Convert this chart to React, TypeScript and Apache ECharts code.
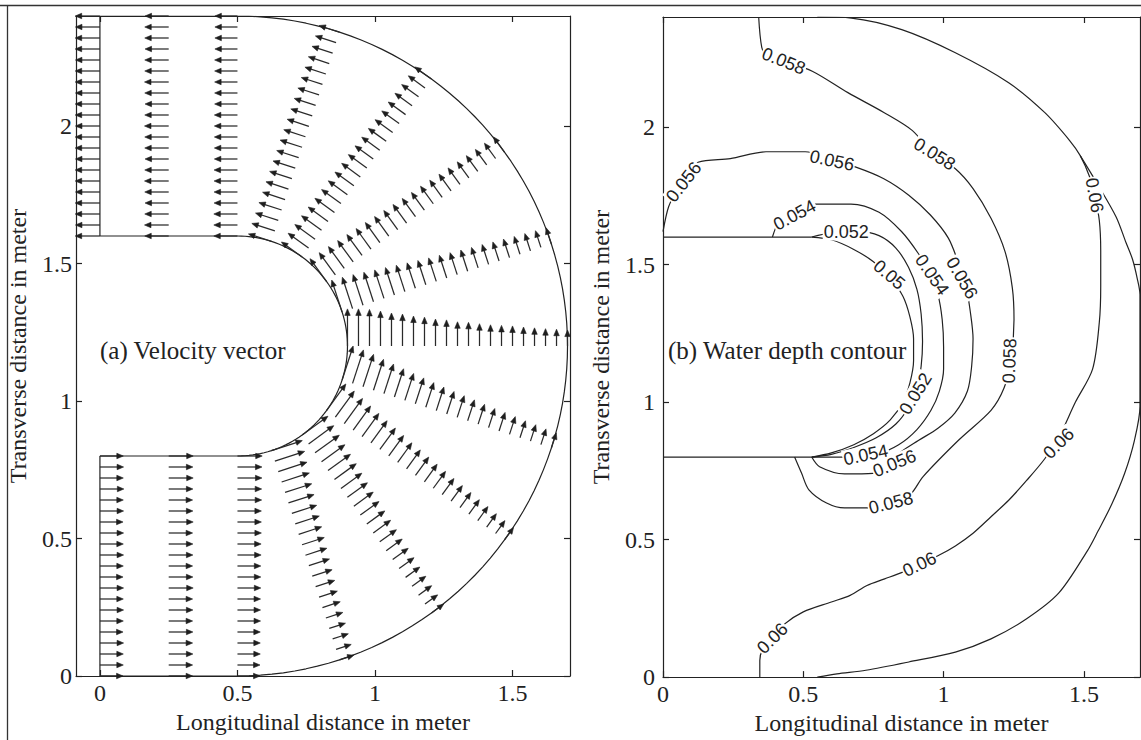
import React, { useEffect, useRef } from "react";
import * as echarts from "echarts";

// ---------- channel geometry (metres) ----------
const BEND_CENTER = [0.5, 1.2];
const R_INNER = 0.4;
const R_OUTER = 1.2;
const STRAIGHT_END_X = 0.5;
const INLET_INNER_Y = 0.8;
const OUTLET_INNER_Y = 1.6;
const NODE_STEP = 0.04; // spacing of the computational nodes across the channel

// ---------- velocity field (arrow length in m, listed from inner bank to outer bank) ----------
const INLET_X = [0, 0.25];
const INLET_SPEED = [
  [0.085, 0.086, 0.085, 0.087, 0.085, 0.086, 0.084, 0.086, 0.085, 0.086, 0.085, 0.084, 0.086, 0.085, 0.086, 0.085, 0.084, 0.086, 0.085, 0.085, 0.084],
  [0.089, 0.088, 0.089, 0.088, 0.087, 0.088, 0.089, 0.087, 0.088, 0.088, 0.087, 0.088, 0.089, 0.087, 0.088, 0.087, 0.088, 0.087, 0.088, 0.087, 0.087],
];

const BEND_ANGLES = [-90, -72, -54, -36, -18, 0, 18, 36, 54, 72, 90];
const BEND_SPEED = [
  [0.09, 0.089, 0.089, 0.088, 0.088, 0.087, 0.087, 0.087, 0.086, 0.086, 0.085, 0.085, 0.085, 0.084, 0.084, 0.084, 0.083, 0.083, 0.083, 0.082, 0.082],
  [0.118, 0.114, 0.11, 0.106, 0.102, 0.098, 0.095, 0.092, 0.088, 0.085, 0.082, 0.079, 0.076, 0.073, 0.07, 0.068, 0.065, 0.062, 0.06, 0.058, 0.055],
  [0.116, 0.113, 0.109, 0.105, 0.101, 0.098, 0.094, 0.09, 0.087, 0.084, 0.081, 0.078, 0.075, 0.072, 0.07, 0.067, 0.064, 0.062, 0.059, 0.057, 0.055],
  [0.12, 0.117, 0.113, 0.108, 0.104, 0.1, 0.096, 0.092, 0.088, 0.085, 0.082, 0.079, 0.076, 0.073, 0.07, 0.068, 0.065, 0.063, 0.06, 0.058, 0.056],
  [0.13, 0.128, 0.124, 0.118, 0.113, 0.108, 0.103, 0.099, 0.094, 0.09, 0.086, 0.083, 0.08, 0.076, 0.073, 0.071, 0.068, 0.065, 0.063, 0.06, 0.058],
  [0.135, 0.135, 0.133, 0.127, 0.12, 0.116, 0.109, 0.105, 0.098, 0.095, 0.088, 0.086, 0.081, 0.077, 0.075, 0.073, 0.069, 0.066, 0.063, 0.061, 0.058],
  [0.122, 0.12, 0.117, 0.113, 0.109, 0.105, 0.101, 0.097, 0.093, 0.09, 0.087, 0.084, 0.081, 0.078, 0.076, 0.073, 0.071, 0.068, 0.066, 0.064, 0.062],
  [0.102, 0.1, 0.098, 0.096, 0.094, 0.092, 0.09, 0.088, 0.086, 0.084, 0.082, 0.08, 0.079, 0.077, 0.075, 0.074, 0.072, 0.071, 0.07, 0.069, 0.068],
  [0.093, 0.092, 0.091, 0.09, 0.089, 0.088, 0.087, 0.086, 0.085, 0.084, 0.083, 0.082, 0.081, 0.08, 0.079, 0.078, 0.078, 0.077, 0.076, 0.075, 0.075],
  [0.088, 0.088, 0.087, 0.087, 0.086, 0.086, 0.085, 0.085, 0.084, 0.084, 0.083, 0.083, 0.082, 0.082, 0.081, 0.081, 0.08, 0.08, 0.079, 0.079, 0.078],
  [0.086, 0.086, 0.086, 0.085, 0.085, 0.085, 0.085, 0.084, 0.084, 0.084, 0.084, 0.084, 0.083, 0.083, 0.083, 0.083, 0.083, 0.082, 0.082, 0.082, 0.082],
];

const OUTLET_X = [0.25, 0];
const OUTLET_SPEED = [
  [0.087, 0.088, 0.087, 0.086, 0.087, 0.088, 0.087, 0.086, 0.087, 0.087, 0.088, 0.087, 0.086, 0.087, 0.088, 0.087, 0.087, 0.086, 0.087, 0.087, 0.086],
  [0.09, 0.089, 0.09, 0.09, 0.089, 0.09, 0.09, 0.089, 0.09, 0.09, 0.089, 0.09, 0.09, 0.089, 0.09, 0.09, 0.089, 0.09, 0.09, 0.089, 0.09],
];

// ---------- water depth contours (m) ----------
const DEPTH_050 = [[0.53, 1.6], [0.6, 1.59], [0.68, 1.555], [0.75, 1.51], [0.81, 1.45], [0.855, 1.385], [0.88, 1.31], [0.893, 1.23], [0.893, 1.15], [0.88, 1.07], [0.855, 1.0], [0.81, 0.935], [0.75, 0.885], [0.68, 0.845], [0.6, 0.815], [0.53, 0.8]];
const DEPTH_052 = [[0.53, 1.6], [0.6, 1.615], [0.7, 1.62], [0.77, 1.605], [0.83, 1.56], [0.875, 1.49], [0.905, 1.41], [0.92, 1.32], [0.925, 1.22], [0.92, 1.13], [0.905, 1.05], [0.875, 0.98], [0.83, 0.92], [0.76, 0.87], [0.68, 0.835], [0.6, 0.81], [0.53, 0.8]];
const DEPTH_054 = [[0.39, 1.6], [0.41, 1.65], [0.45, 1.69], [0.52, 1.72], [0.67, 1.72], [0.77, 1.69], [0.85, 1.62], [0.91, 1.54], [0.95, 1.47], [0.98, 1.39], [0.995, 1.3], [1.0, 1.2], [1.0, 1.12], [0.985, 1.04], [0.955, 0.97], [0.905, 0.9], [0.84, 0.845], [0.76, 0.81], [0.66, 0.8], [0.53, 0.8]];
const DEPTH_056 = [[0, 1.62], [0.02, 1.71], [0.05, 1.77], [0.09, 1.83], [0.125, 1.872], [0.24, 1.885], [0.367, 1.91], [0.507, 1.91], [0.6, 1.88], [0.685, 1.855], [0.787, 1.812], [0.876, 1.752], [0.953, 1.68], [1.017, 1.596], [1.055, 1.5], [1.08, 1.42], [1.095, 1.33], [1.105, 1.23], [1.1, 1.13], [1.085, 1.04], [1.04, 0.96], [0.98, 0.905], [0.91, 0.86], [0.85, 0.82], [0.8, 0.775], [0.748, 0.741], [0.647, 0.739], [0.558, 0.765], [0.53, 0.8]];
const DEPTH_058 = [[0.341, 2.4], [0.352, 2.29], [0.37, 2.26], [0.43, 2.24], [0.532, 2.203], [0.659, 2.125], [0.787, 2.053], [0.889, 1.987], [0.965, 1.9], [1.042, 1.848], [1.105, 1.776], [1.169, 1.668], [1.219, 1.547], [1.245, 1.415], [1.251, 1.3], [1.24, 1.15], [1.215, 1.05], [1.169, 0.97], [1.054, 0.862], [0.927, 0.729], [0.884, 0.667], [0.826, 0.633], [0.745, 0.615], [0.647, 0.615], [0.583, 0.633], [0.52, 0.681], [0.494, 0.741], [0.469, 0.8]];
const DEPTH_060_MID = [[0.55, 2.4], [0.672, 2.396], [0.851, 2.354], [1.042, 2.27], [1.232, 2.161], [1.36, 2.053], [1.45, 1.95], [1.487, 1.896], [1.52, 1.82], [1.538, 1.752], [1.555, 1.66], [1.56, 1.55], [1.56, 1.42], [1.555, 1.29], [1.531, 1.12], [1.47, 1.0], [1.41, 0.87], [1.36, 0.793], [1.296, 0.715], [1.232, 0.643], [1.169, 0.583], [1.105, 0.523], [1.042, 0.477], [0.978, 0.44], [0.914, 0.41], [0.85, 0.38], [0.79, 0.357], [0.727, 0.333], [0.667, 0.297], [0.6, 0.273], [0.5, 0.237], [0.428, 0.189], [0.39, 0.141], [0.355, 0.1], [0.345, 0.06], [0.345, 0]];
const DEPTH_060_OUT = [[1.487, 1.896], [1.55, 1.79], [1.615, 1.673], [1.65, 1.58], [1.673, 1.52], [1.69, 1.45], [1.7, 1.39], [1.7, 0.985], [1.68, 0.86], [1.645, 0.74], [1.6, 0.63], [1.55, 0.53], [1.513, 0.46], [1.41, 0.305], [1.296, 0.212], [1.169, 0.139], [1.042, 0.091], [0.876, 0.055], [0.723, 0.025], [0.62, 0.012], [0.55, 0]];

const CONTOUR_PATHS = [DEPTH_050, DEPTH_052, DEPTH_054, DEPTH_056, DEPTH_058, DEPTH_060_MID, DEPTH_060_OUT];

// contour labels: level, position and text angle (degrees, counter-clockwise)
const LABEL_LEVEL = [0.058, 0.058, 0.06, 0.056, 0.056, 0.054, 0.052, 0.05, 0.054, 0.056, 0.058, 0.052, 0.06, 0.054, 0.056, 0.058, 0.06, 0.06];
const LABEL_X = [0.43, 0.968, 1.538, 0.074, 0.602, 0.469, 0.653, 0.806, 0.959, 1.065, 1.235, 0.9, 1.41, 0.723, 0.825, 0.812, 0.914, 0.39];
const LABEL_Y = [2.24, 1.902, 1.752, 1.8, 1.878, 1.68, 1.62, 1.463, 1.463, 1.451, 1.15, 1.03, 0.85, 0.808, 0.777, 0.633, 0.41, 0.141];
const LABEL_ANGLE = [-22, -32, -80, 52, -12, 28, 0, -40, -55, -60, 88, 58, 45, 12, 22, 14, 25, 45];

// ---------- axes ----------
const X_TICKS = [0, 0.5, 1, 1.5];
const Y_TICKS = [0, 0.5, 1, 1.5, 2];
const LEFT_X_RANGE = [-0.087, 1.709];
const RIGHT_X_RANGE = [0, 1.7];
const Y_RANGE = [0, 2.4];

const INK = "#222";
const SERIF = '"Liberation Serif", "Times New Roman", serif';

function arcPoints(r: number, fromDeg: number, toDeg: number) {
  const pts: number[][] = [];
  const n = 90;
  for (let k = 0; k <= n; k++) {
    const t = ((fromDeg + ((toDeg - fromDeg) * k) / n) * Math.PI) / 180;
    pts.push([BEND_CENTER[0] + r * Math.cos(t), BEND_CENTER[1] + r * Math.sin(t)]);
  }
  return pts;
}

function channelWalls() {
  const inner = [[0, INLET_INNER_Y], [STRAIGHT_END_X, INLET_INNER_Y], ...arcPoints(R_INNER, -90, 90), [0, OUTLET_INNER_Y]];
  const outer = [[0, BEND_CENTER[1] - R_OUTER], [STRAIGHT_END_X, BEND_CENTER[1] - R_OUTER], ...arcPoints(R_OUTER, -90, 90), [0, BEND_CENTER[1] + R_OUTER]];
  const inletWall = [[0, BEND_CENTER[1] - R_OUTER], [0, INLET_INNER_Y]];
  const outletWall = [[0, OUTLET_INNER_Y], [0, BEND_CENTER[1] + R_OUTER]];
  return [inner, outer, inletWall, outletWall];
}

function quiverData() {
  const data: number[][] = [];
  INLET_X.forEach((x, s) => {
    INLET_SPEED[s].forEach((sp, i) => data.push([x, INLET_INNER_Y - i * NODE_STEP, sp, 0]));
  });
  BEND_ANGLES.forEach((deg, s) => {
    const t = (deg * Math.PI) / 180;
    BEND_SPEED[s].forEach((sp, i) => {
      const r = R_INNER + i * NODE_STEP;
      data.push([BEND_CENTER[0] + r * Math.cos(t), BEND_CENTER[1] + r * Math.sin(t), -sp * Math.sin(t), sp * Math.cos(t)]);
    });
  });
  OUTLET_X.forEach((x, s) => {
    OUTLET_SPEED[s].forEach((sp, i) => data.push([x, OUTLET_INNER_Y + i * NODE_STEP, -sp, 0]));
  });
  return data;
}

function axisPair(gridIndex: number, range: number[], ticks: number[], isX: boolean, name: string, nameGap: number, labelMargin: number) {
  const common = {
    gridIndex,
    type: "value",
    min: range[0],
    max: range[1],
    splitLine: { show: false },
    axisLine: { show: true, onZero: false, lineStyle: { color: INK, width: 1.2 } },
    axisTick: { show: true, inside: true, length: 6, customValues: ticks, lineStyle: { color: INK, width: 1.2 } },
  };
  const main = {
    ...common,
    position: isX ? "bottom" : "left",
    axisLabel: { show: true, customValues: ticks, margin: labelMargin, fontFamily: SERIF, fontSize: 24, color: INK },
    name,
    nameLocation: "middle",
    nameGap,
    nameTextStyle: { fontFamily: SERIF, fontSize: 24, color: INK },
  };
  const mirror = { ...common, position: isX ? "top" : "right", axisLabel: { show: false } };
  return [main, mirror];
}

export default function App() {
  const ref = useRef<HTMLDivElement>(null);

  useEffect(() => {
    if (!ref.current) return;
    const chart = echarts.init(ref.current, undefined, { renderer: "svg" });

    const wallSeries = channelWalls().map((path) => ({
      type: "line",
      xAxisIndex: 0,
      yAxisIndex: 0,
      data: path,
      symbol: "none",
      silent: true,
      lineStyle: { color: INK, width: 1.2 },
      z: 3,
    }));

    const quiver = {
      type: "custom",
      xAxisIndex: 0,
      yAxisIndex: 0,
      data: quiverData(),
      silent: true,
      z: 4,
      renderItem: (_params: any, api: any) => {
        const x = api.value(0), y = api.value(1), u = api.value(2), v = api.value(3);
        const p0 = api.coord([x, y]);
        const p1 = api.coord([x + u, y + v]);
        const dx = p1[0] - p0[0], dy = p1[1] - p0[1];
        const len = Math.hypot(dx, dy) || 1;
        const ux = dx / len, uy = dy / len;
        const head = Math.min(6.5, len * 0.42);
        const hw = head * 0.42;
        const bx = p1[0] - ux * head, by = p1[1] - uy * head;
        return {
          type: "group",
          children: [
            { type: "line", shape: { x1: p0[0], y1: p0[1], x2: bx + ux * 1, y2: by + uy * 1 }, style: { stroke: "#2a2a2a", lineWidth: 1.25 } },
            { type: "polygon", shape: { points: [[p1[0], p1[1]], [bx - uy * hw, by + ux * hw], [bx + uy * hw, by - ux * hw]] }, style: { fill: "#1e1e1e", stroke: "#1e1e1e", lineWidth: 0.6 } },
          ],
        };
      },
    };

    const contourSeries = CONTOUR_PATHS.map((path) => ({
      type: "line",
      xAxisIndex: 2,
      yAxisIndex: 2,
      data: path,
      symbol: "none",
      smooth: 0.3,
      silent: true,
      lineStyle: { color: INK, width: 1.2 },
      z: 3,
    }));

    const rightWalls = [
      [[0, OUTLET_INNER_Y], [0.53, OUTLET_INNER_Y]],
      [[0, INLET_INNER_Y], [0.53, INLET_INNER_Y]],
    ].map((path) => ({
      type: "line",
      xAxisIndex: 2,
      yAxisIndex: 2,
      data: path,
      symbol: "none",
      silent: true,
      lineStyle: { color: INK, width: 1.2 },
      z: 3,
    }));

    const contourLabels = {
      type: "custom",
      xAxisIndex: 2,
      yAxisIndex: 2,
      data: LABEL_LEVEL.map((lv, i) => [LABEL_X[i], LABEL_Y[i], LABEL_ANGLE[i], lv]),
      silent: true,
      z: 6,
      renderItem: (_params: any, api: any) => {
        const p = api.coord([api.value(0), api.value(1)]);
        return {
          type: "text",
          x: p[0],
          y: p[1],
          rotation: (api.value(2) * Math.PI) / 180,
          style: {
            text: String(api.value(3)),
            font: '18px "Liberation Sans", Arial, sans-serif',
            fill: INK,
            align: "center",
            verticalAlign: "middle",
            backgroundColor: "#fff",
            padding: [0, 1],
          },
        };
      },
    };

    const [lx, lxTop] = axisPair(0, LEFT_X_RANGE, X_TICKS, true, "Longitudinal distance in meter", 30, 5);
    const [ly, lyRight] = axisPair(0, Y_RANGE, Y_TICKS, false, "Transverse distance in meter", 46, 4);
    const [rx, rxTop] = axisPair(1, RIGHT_X_RANGE, X_TICKS, true, "Longitudinal distance in meter", 28, 5);
    const [ry, ryRight] = axisPair(1, Y_RANGE, Y_TICKS, false, "Transverse distance in meter", 50, 8);

    chart.setOption({
      animation: false,
      backgroundColor: "#fff",
      grid: [
        { left: 76, top: 16, width: 494, height: 660 },
        { left: 663, top: 17, width: 477, height: 665 },
      ],
      xAxis: [lx, lxTop, rx, rxTop],
      yAxis: [ly, lyRight, ry, ryRight],
      graphic: [
        { type: "line", shape: { x1: 0, y1: 5.5, x2: 1141, y2: 5.5 }, style: { stroke: "#333", lineWidth: 1.3 } },
        { type: "line", shape: { x1: 7.5, y1: 5, x2: 7.5, y2: 740 }, style: { stroke: "#333", lineWidth: 1.3 } },
        { type: "text", x: 100, y: 350, style: { text: "(a) Velocity vector", font: `25px ${SERIF}`, fill: INK, verticalAlign: "middle" } },
        { type: "text", x: 668, y: 350, style: { text: "(b) Water depth contour", font: `25px ${SERIF}`, fill: INK, verticalAlign: "middle" } },
      ],
      series: [...wallSeries, quiver, ...contourSeries, ...rightWalls, contourLabels],
    });

    return () => chart.dispose();
  }, []);

  return <div ref={ref} style={{ position: "fixed", left: 0, top: 0, width: 1141, height: 740, background: "#fff" }} />;
}
